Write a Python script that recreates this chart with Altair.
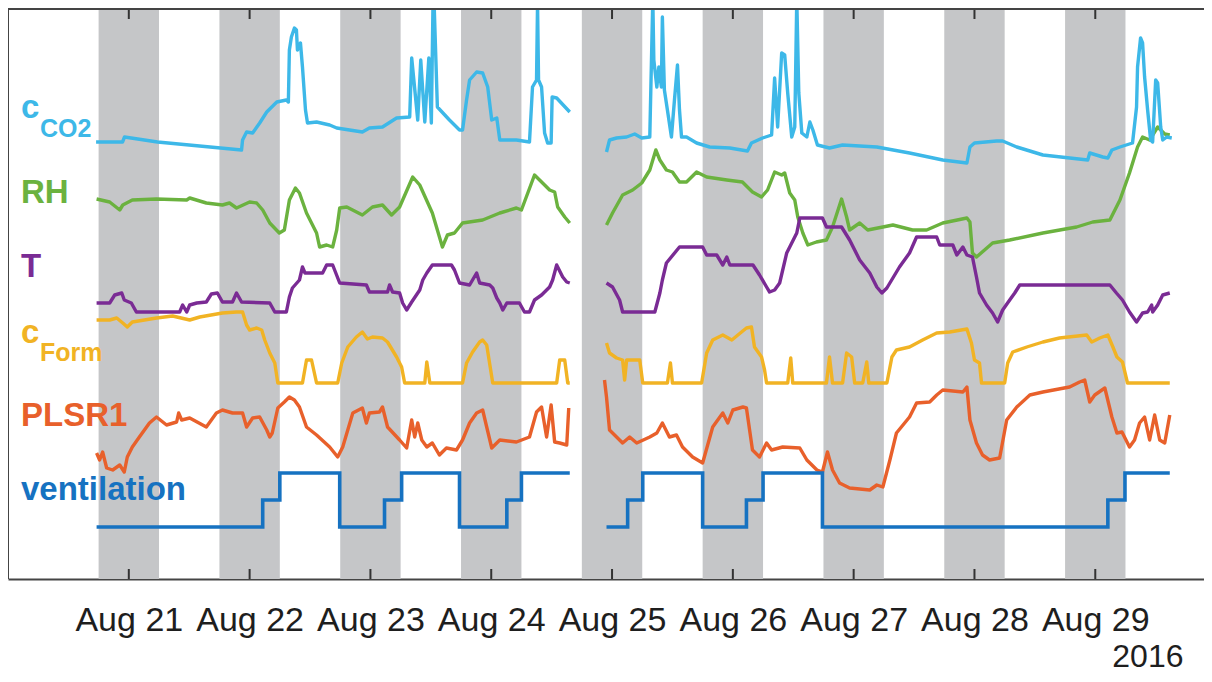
import altair as alt
import pandas as pd

T0 = pd.Timestamp("2016-08-20 00:00:00")
FONT = "Liberation Sans"

# ---------------- data: (hours since 2016-08-20 00:00, trace value in stacked arbitrary units) ----
co2 = [(17.5,437),(22.75,437),(23.15,442),(29.7,437),(46.4,429),(46.6,439),(47.4,447),(48.6,446),(50.0,456),
       (51.4,467),(53.4,477),(55.3,479),(55.7,477),(55.9,529),(56.3,542),(56.9,551),(57.3,549),(57.5,529),
       (58.1,536),(58.5,512),(59.1,469),(59.5,456),(61.3,457),(63.9,454),(65.3,451),(70.4,447),(71.8,451),
       (74.4,452),(77.2,461),(79.8,462),(80.2,521),(81.4,459),(82.0,519),(82.8,457),(83.6,521),(84.1,456),
       (84.5,600),(85.3,472),(87.7,459),(89.7,449),(90.3,449),(91.1,479),(91.7,499),(93.1,507),(94.3,506),
       (95.3,492),(96.1,459),(97.1,461),(97.7,439),(101.0,439),(103.6,437),(104.2,492),(105.0,499),(105.2,575),
       (105.4,499),(106.0,492),(106.6,446),(107.2,436),(107.9,436),(108.1,482),(109.0,481),(111.6,467),
       (118.9,427),(119.5,439),(120.9,441),(122.9,442),(124.5,445),(125.9,441),(127.5,442),(128.1,580),
       (128.3,519),(128.9,492),(129.3,512),(129.8,492),(130.0,562),(130.4,489),(131.0,469),(131.8,442),
       (132.4,479),(133.0,514),(133.4,469),(133.8,442),(134.8,442),(136.8,436),(139.4,432),(143.4,431),
       (146.9,428),(147.7,436),(149.9,441),(151.7,444),(152.3,501),(152.9,452),(153.7,526),(154.3,524),
       (154.9,486),(155.7,442),(156.3,452),(156.7,580),(157.1,486),(157.7,446),(158.7,442),(159.3,457),
       (159.9,449),(160.8,434),(163.2,431),(165.8,434),(172.6,432),(179.1,426),(185.7,419),(190.5,416),
       (191.1,432),(192.0,436),(196.4,438),(197.6,438),(200.4,432),(205.6,424),(214.5,419),(214.9,426),
       (217.5,422),(218.5,421),(219.3,429),(220.9,432),(223.4,436),(224.2,472),(224.4,512),(225.0,541),
       (225.4,536),(225.8,502),(226.4,469),(227.0,439),(227.4,437),(228.0,499),(228.4,496),(229.0,452),
       (229.4,439),(230.2,442),(231.2,441)]

rh = [(17.6,380),(20.2,377),(22.2,369),(22.8,374),(24.7,379),(29.5,380),(35.5,379),(36.1,381),(39.4,376),
      (42.6,374),(44.0,376),(45.4,371),(48.0,377),(49.4,376),(50.6,369),(52.0,356),(53.9,346),(54.9,349),
      (55.9,379),(57.1,391),(57.9,386),(59.3,366),(61.3,346),(61.9,332),(63.3,334),(64.5,332),(65.3,349),
      (65.9,371),(67.3,372),(70.4,364),(72.4,372),(74.4,374),(76.2,364),(77.8,372),(80.4,402),(81.8,394),
      (84.3,366),(86.3,332),(87.3,344),(88.7,346),(90.3,356),(94.3,359),(97.7,366),(101.0,371),(102.0,369),
      (104.6,404),(105.6,399),(107.6,389),(108.6,387),(109.2,372),(110.6,362),(111.6,356),
      (118.9,354),(120.1,366),(122.1,384),(124.1,389),(125.9,396),(127.5,409),(128.7,429),(129.5,419),
      (130.8,409),(132.0,407),(133.4,397),(134.8,397),(136.8,407),(138.8,402),(142.8,399),(145.9,397),
      (147.9,387),(149.7,382),(150.9,389),(152.3,407),(153.7,404),(154.3,406),(155.3,386),(156.3,379),
      (156.9,362),(157.9,346),(158.9,334),(160.6,337),(162.6,339),(163.8,352),(165.6,380),(166.6,362),
      (167.2,349),(169.2,356),(170.8,349),(175.8,354),(179.7,349),(182.5,349),(185.7,356),(190.5,361),
      (191.1,357),(191.6,326),(192.4,322),(195.6,336),(199.0,339),(205.6,346),(212.3,352),(215.5,357),
      (218.9,359),(220.9,379),(222.8,406),(224.4,432),(225.4,442),(226.8,439),(228.4,452),(229.8,445),
      (230.8,444)]

temp = [(17.6,276),(20.2,276),(21.2,284),(22.6,286),(23.1,279),(24.5,276),(25.5,267),(34.1,267),(34.7,274),
        (35.5,267),(36.1,274),(37.5,276),(39.4,277),(40.4,285),(41.6,286),(42.6,277),(44.6,277),(45.4,286),
        (46.4,277),(52.0,276),(53.0,267),(55.3,267),(55.9,282),(56.5,291),(57.9,299),(58.5,312),(59.0,306),
        (62.5,306),(63.3,314),(64.5,314),(65.9,296),(71.2,294),(71.8,287),(75.4,287),(75.8,294),(76.4,287),
        (77.8,286),(78.4,276),(79.2,269),(80.2,277),(81.8,289),(82.4,299),(83.2,306),(84.3,314),(88.1,314),
        (88.7,309),(89.7,296),(91.7,294),(93.1,306),(93.7,296),(95.7,294),(96.3,291),(97.1,281),(97.7,276),
        (98.3,269),(99.1,276),(101.6,276),(102.6,267),(103.6,267),(104.6,279),(106.0,284),(107.0,289),
        (107.6,292),(108.2,299),(109.0,314),(110.2,302),(111.0,297),(111.6,296),
        (118.9,296),(120.1,292),(121.5,279),(122.1,267),(128.5,267),(129.5,286),(130.0,299),(130.8,316),
        (133.4,332),(138.0,332),(138.8,324),(140.8,324),(142.0,314),(142.8,322),(143.4,314),(148.0,314),
        (149.3,304),(150.7,292),(151.3,287),(152.3,289),(153.3,296),(154.7,326),(155.3,332),(156.7,346),
        (157.3,361),(161.8,361),(162.6,352),(165.6,352),(167.2,339),(169.2,319),(171.2,306),(172.6,292),
        (173.6,286),(174.6,291),(177.1,312),(179.1,326),(180.5,342),(184.5,342),(185.1,334),(187.7,334),
        (188.5,324),(189.7,332),(190.5,324),(191.6,322),(192.4,302),(193.0,286),(194.4,274),(195.6,266),
        (196.6,257),(197.6,269),(199.0,279),(200.0,286),(201.0,294),(218.9,294),(220.2,286),(221.4,279),
        (222.8,267),(224.2,257),(225.4,266),(226.4,267),(227.2,274),(227.4,267),(228.4,274),(229.4,284),
        (230.8,286)]

cform = [(17.6,259),(20.2,259),(21.6,261),(22.8,256),(23.7,252),(24.7,257),(29.5,261),(32.7,263),(36.1,259),
         (38.1,262),(42.6,266),(45.4,267),(46.6,267),(47.4,254),(48.0,249),(49.4,251),(50.4,249),(51.0,239),
         (52.0,226),(53.0,216),(53.6,196),(58.5,196),(59.3,219),(60.3,219),(61.3,196),(65.5,196),(66.3,216),
         (67.5,232),(69.2,242),(70.4,247),(71.4,240),(72.4,242),(74.4,241),(75.4,237),(77.2,222),(78.2,212),
         (78.8,196),(82.8,196),(83.2,217),(83.8,196),(90.3,196),(91.1,216),(92.3,227),(93.7,237),(94.3,239),
         (95.1,234),(96.3,196),(109.0,196),(109.6,219),(110.6,219),(111.2,196),(111.6,196),
         (118.9,236),(119.5,226),(120.9,221),(122.1,219),(122.5,199),(122.9,219),(125.5,219),(126.1,196),
         (131.0,196),(131.6,216),(132.0,196),(137.8,196),(138.8,226),(140.0,239),(142.0,244),(143.8,239),
         (145.0,244),(146.7,251),(147.7,252),(148.3,232),(149.7,222),(150.3,209),(150.7,196),(154.9,196),
         (155.5,221),(155.9,196),(162.6,196),(163.2,222),(163.8,196),(165.8,196),(166.6,226),(167.6,222),
         (168.2,196),(169.8,196),(170.6,217),(171.0,196),(174.6,196),(175.6,222),(176.5,229),(179.1,232),
         (181.7,239),(184.5,246),(187.1,247),(190.5,250),(191.4,236),(192.0,219),(193.0,216),(193.4,196),
         (198.0,196),(198.6,216),(199.6,227),(202.4,232),(205.6,237),(208.9,241),(214.3,244),(215.3,237),
         (216.9,241),(218.5,244),(219.5,232),(220.3,222),(221.4,217),(222.4,196),(230.8,196)]

plsr1 = [(17.6,126),(18.2,119),(18.8,127),(19.6,111),(20.8,109),(22.2,114),(23.1,107),(23.7,122),(24.7,132),
         (26.1,142),(28.1,156),(29.5,162),(31.5,154),(33.5,157),(33.9,166),(34.5,159),(36.1,161),(39.4,152),
         (41.4,166),(42.6,169),(44.6,166),(46.6,166),(47.4,152),(48.6,161),(50.0,162),(51.4,149),(52.0,142),
         (52.5,146),(53.6,171),(54.9,177),(55.9,182),(56.9,179),(57.9,172),(59.3,152),(61.3,144),(63.9,132),
         (65.5,122),(66.5,132),(68.5,166),(70.4,171),(71.2,156),(71.8,166),(73.8,167),(74.4,172),(75.4,152),
         (77.8,139),(79.2,131),(80.2,159),(80.8,142),(81.4,156),(82.2,139),(83.2,132),(84.3,136),(85.7,124),
         (87.1,131),(89.1,129),(90.3,139),(91.7,156),(93.1,166),(94.3,169),(95.1,152),(96.1,131),(97.7,139),
         (101.0,137),(103.6,142),(105.0,167),(106.0,172),(107.0,142),(107.9,174),(108.6,137),(109.6,136),
         (111.0,134),(111.4,171),
         (118.5,199),(118.9,182),(119.5,149),(120.9,142),(122.1,136),(123.5,142),(124.9,136),(127.5,142),
         (128.9,146),(130.0,156),(131.4,142),(132.8,144),(134.0,132),(136.0,122),(138.0,116),(140.0,152),
         (142.0,166),(143.0,156),(144.0,169),(146.0,172),(146.7,171),(147.9,129),(149.3,122),(150.7,136),
         (151.7,129),(153.9,132),(157.3,131),(158.7,119),(160.7,109),(161.8,107),(162.8,127),(163.8,109),
         (165.2,96),(167.2,91),(171.2,89),(172.6,94),(173.8,92),(175.2,119),(176.5,146),(179.1,162),
         (180.5,176),(183.1,177),(184.5,184),(185.7,189),(189.7,187),(190.5,192),(191.1,159),(192.4,136),
         (193.6,124),(195.0,119),(197.0,121),(198.4,159),(200.4,172),(203.0,184),(205.6,187),(210.9,192),
         (212.9,197),(213.9,199),(214.9,177),(215.9,184),(217.9,191),(219.3,162),(220.3,146),(221.3,147),
         (222.8,132),(223.8,139),(224.8,156),(225.8,162),(226.8,139),(227.8,164),(228.8,139),(229.8,136),
         (230.8,164)]

# ventilation stage (0 = low, 1 = medium, 2 = high)
ventilation = [(17.6,0),(50.6,1),(54.0,2),(65.9,0),(74.8,1),(78.2,2),(89.7,0),(99.1,1),(102.0,2),(111.6,2),
               (118.9,0),(123.1,1),(126.1,2),(138.0,0),(146.7,1),(150.0,2),(161.8,0),(218.5,1),(221.9,2),
               (230.8,2)]
VENT_BASE, VENT_STEP = 52, 27

night_start = ["2016-08-20 18:00", "2016-08-21 18:00", "2016-08-22 18:00", "2016-08-23 18:00",
               "2016-08-24 18:00", "2016-08-25 18:00", "2016-08-26 18:00", "2016-08-27 18:00",
               "2016-08-28 18:00"]
night_end = ["2016-08-21 06:00", "2016-08-22 06:00", "2016-08-23 06:00", "2016-08-24 06:00",
             "2016-08-25 06:00", "2016-08-26 06:00", "2016-08-27 06:00", "2016-08-28 06:00",
             "2016-08-29 06:00"]
tick_days = [21, 22, 23, 24, 25, 26, 27, 28, 29]

SERIES = ["CO2", "RH", "T", "Form", "PLSR1", "ventilation"]
COLORS = ["#3db8e8", "#6bb23f", "#7a2b94", "#f1b324", "#e8602b", "#1672c1"]
COL = dict(zip(SERIES, COLORS))


def to_frame(name, pairs):
    return pd.DataFrame({
        "series": name,
        "time": [T0 + pd.Timedelta(hours=h) for h, _ in pairs],
        "value": [v for _, v in pairs],
        "segment": ["a" if h < 115 else "b" for h, _ in pairs],
    })


traces = pd.concat([to_frame("RH", rh), to_frame("T", temp), to_frame("Form", cform),
                    to_frame("PLSR1", plsr1), to_frame("CO2", co2)], ignore_index=True)
vent = to_frame("ventilation", ventilation)
vent["value"] = VENT_BASE + VENT_STEP * vent["value"]

nights = pd.DataFrame({"start": pd.to_datetime(night_start), "end": pd.to_datetime(night_end)})
days = pd.DataFrame({"day": [pd.Timestamp(2016, 8, d) for d in tick_days]})
one = pd.DataFrame({"k": [0]})

W, H = 1196, 570
x_scale = alt.Scale(domain=[alt.DateTime(year=2016, month=8, date=20),
                            alt.DateTime(year=2016, month=8, date=29, hours=21, minutes=36)])
AXIS = alt.Axis(values=[alt.DateTime(year=2016, month=8, date=d) for d in tick_days],
                format="%b %d", labelFont=FONT, labelFontSize=34, labelColor="#1e1e1e",
                labelPadding=24, labelOverlap=False, labelFlush=False, ticks=False, tickSize=0,
                domain=True, domainColor="#444444", domainWidth=2, grid=False,
                title="2016", titleFont=FONT, titleFontSize=32, titleFontWeight="normal",
                titleColor="#1e1e1e", titleAlign="right", titleAnchor="end",
                titleBaseline="alphabetic", titleX=1175, titleY=87)


def xenc(field):
    return alt.X(field, type="temporal", scale=x_scale, axis=AXIS)


y_scale = alt.Scale(domain=[0, H])

bands = alt.Chart(nights).mark_rect(color="#c5c6c8").encode(x=xenc("start"), x2="end:T")

lines = alt.Chart(traces).mark_line(strokeWidth=3.4, clip=True, strokeJoin="round").encode(
    x=xenc("time"),
    y=alt.Y("value:Q", scale=y_scale, axis=None),
    color=alt.Color("series:N", scale=alt.Scale(domain=SERIES, range=COLORS), legend=None),
    detail="segment:N",
)

vent_line = alt.Chart(vent).mark_line(strokeWidth=3.6, interpolate="step-after", clip=True).encode(
    x=xenc("time"),
    y=alt.Y("value:Q", scale=y_scale, axis=None),
    color=alt.Color("series:N", scale=alt.Scale(domain=SERIES, range=COLORS), legend=None),
    detail="segment:N",
)

ticks_top = alt.Chart(days).mark_rule(color="#333333", strokeWidth=2).encode(
    x=xenc("day"), y=alt.value(0), y2=alt.value(10))
ticks_bottom = alt.Chart(days).mark_rule(color="#333333", strokeWidth=2).encode(
    x=xenc("day"), y=alt.value(H - 10), y2=alt.value(H))

frame_top = alt.Chart(one).mark_rule(color="#444444", strokeWidth=2).encode(
    x=alt.value(0), x2=alt.value(W), y=alt.value(0))
frame_left = alt.Chart(one).mark_rule(color="#444444", strokeWidth=2).encode(
    x=alt.value(0), y=alt.value(0), y2=alt.value(H))


def label(text, x, y, color, size):
    return alt.Chart(pd.DataFrame({"t": [text]})).mark_text(
        align="left", baseline="alphabetic", font=FONT, fontSize=size, fontWeight="bold",
        color=color).encode(text="t:N", x=alt.value(x), y=alt.value(y))


labels = [
    label("c", 13, 109, COL["CO2"], 33),
    label("CO2", 32, 128, COL["CO2"], 25),
    label("RH", 13, 194, COL["RH"], 33),
    label("T", 13, 268, COL["T"], 33),
    label("c", 13, 334, COL["Form"], 33),
    label("Form", 32, 352, COL["Form"], 25),
    label("PLSR1", 13, 417, COL["PLSR1"], 33),
    label("ventilation", 13, 491, COL["ventilation"], 33),
]

chart = alt.layer(bands, lines, vent_line, ticks_top, ticks_bottom, frame_top, frame_left, *labels).properties(
    width=W, height=H,
    padding={"left": 0, "top": 1, "right": 0, "bottom": 95},
    autosize=alt.AutoSizeParams(type="none"),
).configure_view(stroke=None)

chart.save("out.html", embed_options={"renderer": "svg", "actions": False})
